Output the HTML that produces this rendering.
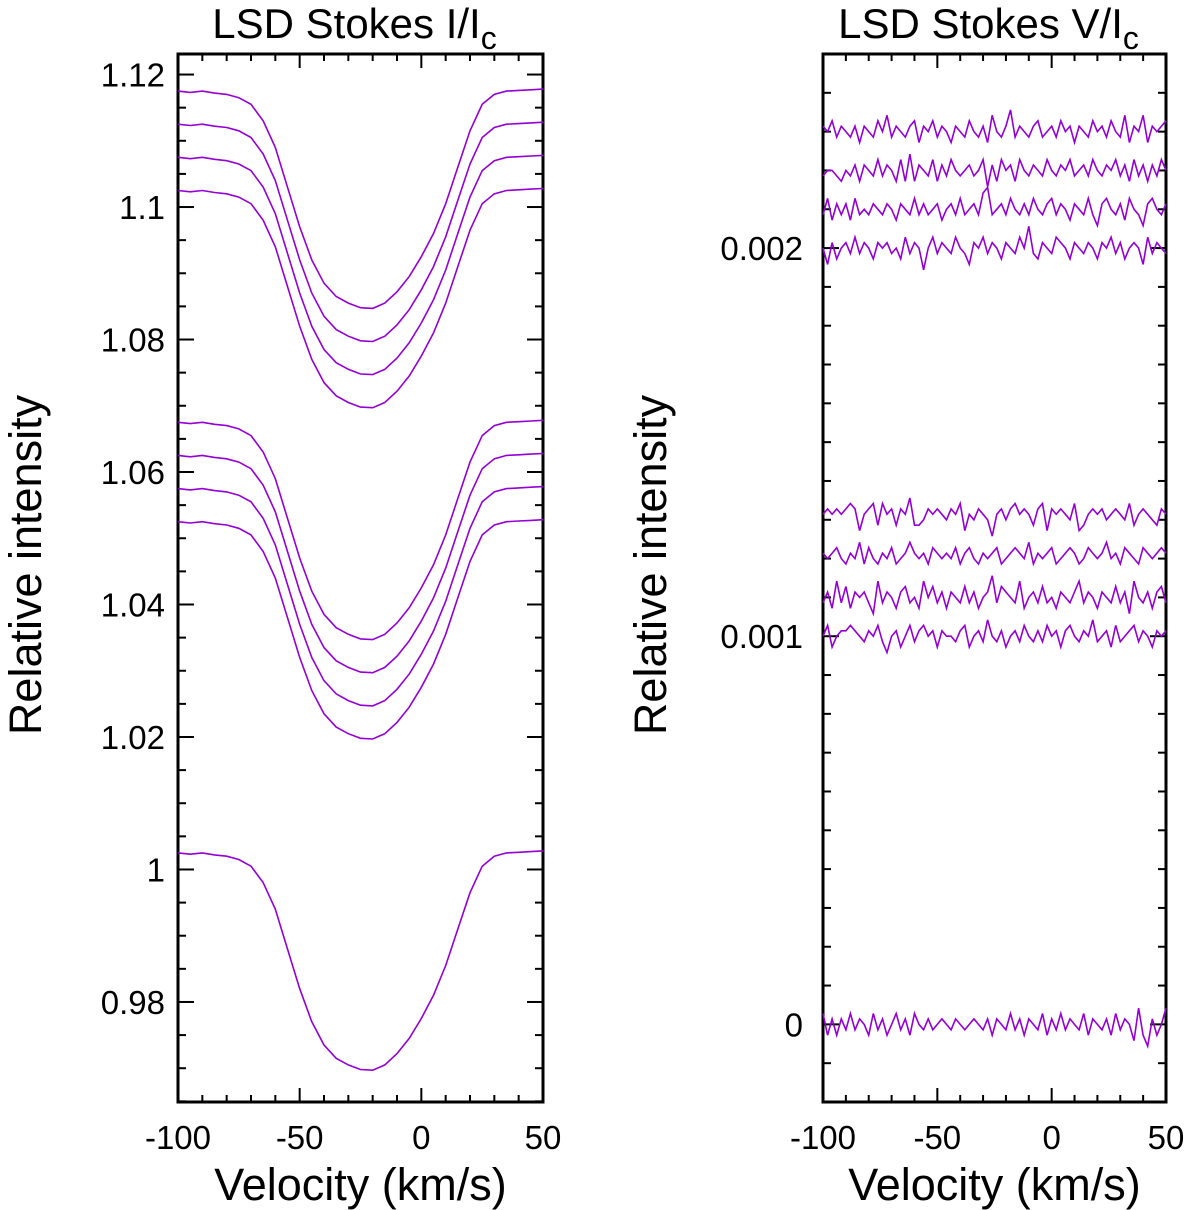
<!DOCTYPE html>
<html><head><meta charset="utf-8">
<style>
html,body{margin:0;padding:0;background:#fff;}
svg{display:block;font-family:"Liberation Sans",sans-serif;}
</style></head>
<body>
<svg id="chart" width="1200" height="1210" viewBox="0 0 1200 1210"></svg>
<script>
// ---- data ----
const velI = [-100,-95,-90,-85,-80,-75,-70,-65,-60,-55,-50,-45,-40,-35,-30,-25,-20,-15,-10,-5,0,5,10,15,20,25,30,35,40,45,50];
const profileI = [1.0025,1.0023,1.0025,1.0022,1.0020,1.0015,1.0005,0.9980,0.9940,0.9880,0.9820,0.9770,0.9735,0.9715,0.9705,0.9698,0.9697,0.9705,0.9722,0.9745,0.9775,0.9810,0.9855,0.9910,0.9965,1.0005,1.0020,1.0025,1.0026,1.0027,1.0028];
const offsetsI = [0,0.05,0.055,0.06,0.065,0.10,0.105,0.11,0.115];
const yTicksI = [0.98,1,1.02,1.04,1.06,1.08,1.1,1.12];
const yTickLabelsI = ["0.98","1","1.02","1.04","1.06","1.08","1.1","1.12"];
const xTicks = [-100,-50,0,50];
const xTickLabels = ["-100","-50","0","50"];
const offsetsV = [0,0.001,0.0011,0.0012,0.0013,0.002,0.0021,0.0022,0.0023];
const yTicksV = [0,0.001,0.002];
const yTickLabelsV = ["0","0.001","0.002"];
// V noise in units of 1e-5, velocities -100..50 step 2
const noiseV0 = [2,-2,1,-2,1,-1,2,-1,1,0,-2,2,-1,1,-2,0,2,-1,1,-2,2,0,-1,1,-1,0,1,0,-1,1,0,-1,0,1,0,-1,1,-2,1,0,-1,2,-1,1,-2,1,0,-1,2,-2,1,-1,2,-1,1,0,-1,2,-2,1,0,-1,1,-2,2,-1,1,0,-3,3,-2,-4,1,-2,0,3];
const noiseV1 = [0,2,-2,0,1,1,2,1,0,-1,1,0,2,-1,-3,0,1,-2,0,2,-1,1,2,0,1,-2,1,0,0,-1,1,2,-2,0,1,-1,3,0,-1,1,-2,0,1,-1,2,0,-1,1,-1,2,0,1,-2,1,2,0,-1,1,0,3,-1,0,1,-2,2,-1,0,1,2,-1,1,0,-2,1,0,1];
const noiseV2 = [-1,1,-2,3,-1,2,-2,1,0,1,-1,-3,3,-1,1,0,-2,1,2,-1,0,-2,3,0,2,-1,1,-2,1,0,-1,2,-1,1,-2,0,1,4,-1,2,1,0,-1,3,-2,0,1,-1,2,-1,0,-2,1,0,-1,1,3,-1,1,0,-2,1,0,-1,2,-1,1,-3,3,0,-1,1,-2,1,2,-1];
const noiseV3 = [1,0,1,2,0,-1,1,0,3,-1,2,0,-1,1,0,2,-1,0,1,3,1,0,1,-1,2,1,0,1,0,2,-1,1,2,0,-1,1,0,1,2,-1,0,1,2,1,0,3,-1,1,0,1,2,-1,0,1,2,1,-1,0,2,1,0,1,3,0,1,-1,2,1,0,-1,2,1,0,1,2,1];
const noiseV4 = [1,2,1,2,1,2,3,2,-2,1,2,3,-1,3,1,2,-1,2,1,4,-1,-1,0,2,1,2,1,0,2,1,3,-2,1,0,2,1,0,-3,1,2,0,2,3,1,2,1,-1,2,3,-2,2,1,2,1,0,3,-2,-1,1,2,1,2,0,1,2,1,0,3,-1,1,2,1,0,-1,2,1];
const noiseV5 = [0,-3,1,-2,0,1,-1,2,-1,1,0,-2,1,0,1,-1,0,-2,2,-1,1,0,-4,0,2,-1,1,0,-1,2,0,-1,-3,1,0,2,-1,1,0,-2,1,0,-1,2,0,4,-1,-2,1,0,-1,2,1,0,-2,1,0,-1,1,0,-2,1,0,2,-1,1,-2,0,1,0,-3,2,-1,1,0,-1];
const noiseV6 = [-1,2,-2,1,-1,1,-2,2,-1,0,-1,1,0,-1,1,0,-2,1,0,-1,2,-1,1,-1,0,1,-2,0,1,-1,2,-1,0,1,-1,3,4,-1,0,1,-1,2,0,-1,1,-1,2,0,-1,1,2,-1,1,0,-2,1,0,-1,2,-1,-3,1,2,0,-1,1,-2,2,0,-1,-3,1,2,0,-1,1];
const noiseV7 = [-1,0,0,-1,-2,0,-1,1,-2,1,0,-1,2,-1,1,0,-2,2,-2,3,-2,1,0,-1,2,-2,1,-1,2,0,-1,0,1,-1,0,2,-3,1,-2,2,0,1,-2,2,0,-1,1,0,-1,2,0,-1,1,0,2,-1,0,1,-1,2,0,-1,1,0,2,-1,1,-2,2,-1,1,-2,1,-1,2,0];
const noiseV8 = [1,0,2,-1,1,0,-1,1,-2,1,0,-1,2,0,3,-1,1,0,-1,1,2,-2,1,0,2,-1,1,0,-2,1,0,-1,2,0,-1,1,-2,3,0,-1,1,4,-1,1,0,-1,1,2,-1,0,1,-1,2,0,1,-2,1,0,-1,2,0,1,-1,2,0,-1,3,-2,1,0,3,-2,1,0,1,2];
const noisesV = [noiseV0,noiseV1,noiseV2,noiseV3,noiseV4,noiseV5,noiseV6,noiseV7,noiseV8];

// ---- geometry ----
const NS = "http://www.w3.org/2000/svg";
const svgEl = document.getElementById('chart');
const plotTop = 54, plotBot = 1102;
const L = {x0:178, x1:543, ymin:0.9649, ymax:1.1231, lblOff:13, ytOff:153};
const R = {x0:823, x1:1166, ymin:-0.0002, ymax:0.0025, lblOff:20, ytOff:173};
const COLOR = "#9400d3";
const NOISE_UNIT = 1.4e-5;
function xs(p, v){ return p.x0 + (v + 100) / 150 * (p.x1 - p.x0); }
function ys(p, v){ return plotBot - (v - p.ymin) / (p.ymax - p.ymin) * (plotBot - plotTop); }
function mk(tag, attrs, parent){
  const e = document.createElementNS(NS, tag);
  for (const k in attrs) e.setAttribute(k, attrs[k]);
  (parent || svgEl).appendChild(e);
  return e;
}
function txt(s, x, y, size, anchor, parent){
  const t = mk('text', {x:x, y:y, 'font-size':size, 'text-anchor':anchor, fill:'#000'}, parent);
  t.textContent = s;
  return t;
}

function axes(p, gname, yTicks, yLabels, minorStep, title){
  const g = mk('g', {});
  
  
  for (let v = -100; v <= 50; v += 10) {
    const major = v % 50 === 0;
    const len = major ? 14 : 7;
    const x = xs(p, v);
    mk('line', {x1:x, y1:plotBot, x2:x, y2:plotBot - len, stroke:'#000', 'stroke-width':2}, g);
    mk('line', {x1:x, y1:plotTop, x2:x, y2:plotTop + len, stroke:'#000', 'stroke-width':2}, g);
  }
  xTicks.forEach((v, i) => {
    const t = txt(xTickLabels[i], xs(p, v), plotBot + 47, 33, 'middle', g);
    
    
  });
  const n0 = Math.ceil(p.ymin / minorStep - 1e-6), n1 = Math.floor(p.ymax / minorStep + 1e-6);
  for (let k = n0; k <= n1; k++) {
    const v = k * minorStep;
    const y = ys(p, v);
    if (y < plotTop || y > plotBot) continue;
    const isMajor = yTicks.some(t => Math.abs(t - v) < minorStep / 10);
    const len = isMajor ? 16 : 8;
    mk('line', {x1:p.x0, y1:y, x2:p.x0 + len, y2:y, stroke:'#000', 'stroke-width':2}, g);
    mk('line', {x1:p.x1, y1:y, x2:p.x1 - len, y2:y, stroke:'#000', 'stroke-width':2}, g);
  }
  yTicks.forEach((v, i) => {
    const t = txt(yLabels[i], p.x0 - p.lblOff, ys(p, v) + 12, 33, 'end', g);
    
    
  });
  const f = mk('rect', {x:p.x0, y:plotTop, width:p.x1 - p.x0, height:plotBot - plotTop, fill:'none', stroke:'#000', 'stroke-width':3}, g);
  
  
  const xt = txt('Velocity (km/s)', (p.x0 + p.x1) / 2, 1200, 45, 'middle', g);
  
  
  const yt = txt('Relative intensity', 0, 0, 45, 'middle', g);
  yt.setAttribute('transform', 'translate(' + (p.x0 - p.ytOff + 16) + ',565) rotate(-90)');
  
  
  const tt = txt('', (p.x0 + p.x1) / 2 - 6, 38, 42, 'middle', g);
  tt.appendChild(document.createTextNode(title));
  const sub = mk('tspan', {'font-size':32, dy:11}, tt);
  sub.textContent = 'c';
  
  
}

axes(L, 'stokes-i-axes', yTicksI, yTickLabelsI, 0.005, 'LSD Stokes I/I');
axes(R, 'stokes-v-axes', yTicksV, yTickLabelsV, 0.0001, 'LSD Stokes V/I');

offsetsI.forEach((off, j) => {
  const pts = velI.map((v, i) => xs(L, v).toFixed(1) + ',' + ys(L, profileI[i] + off).toFixed(1)).join(' ');
  const pl = mk('polyline', {points:pts, fill:'none', stroke:COLOR, 'stroke-width':1.6});
  
  
});

offsetsV.forEach((off, j) => {
  const nz = noisesV[j];
  const pts = nz.map((n, i) => xs(R, -100 + 2 * i).toFixed(1) + ',' + ys(R, off + n * NOISE_UNIT).toFixed(1)).join(' ');
  const pl = mk('polyline', {points:pts, fill:'none', stroke:COLOR, 'stroke-width':1.6});
  
  
});
</script>
</body></html>
